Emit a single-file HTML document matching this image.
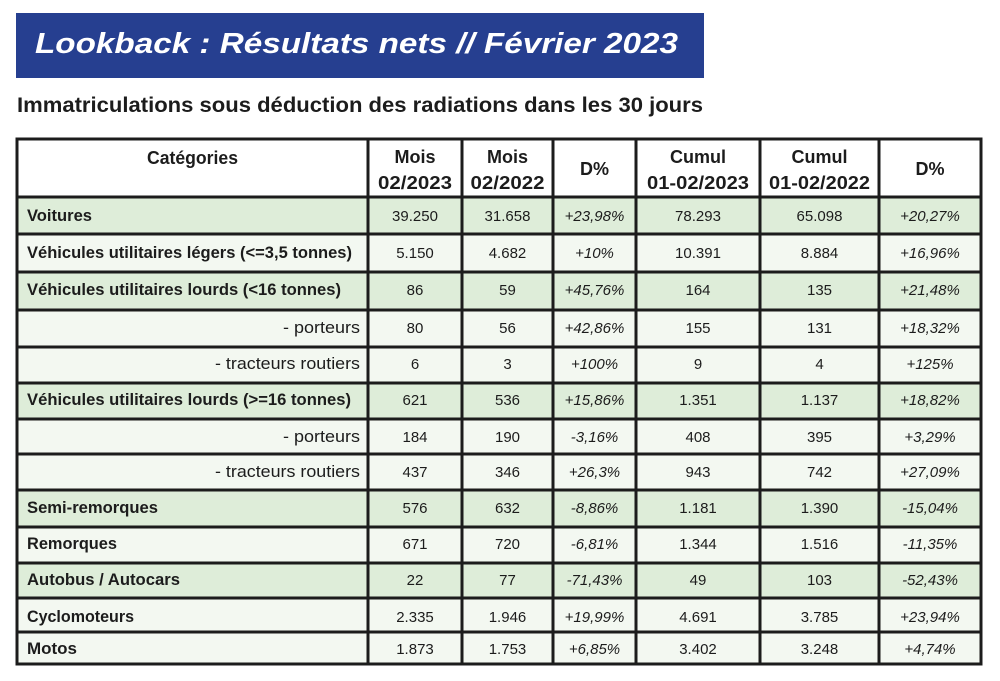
<!DOCTYPE html>
<html><head><meta charset="utf-8"><style>
html,body{margin:0;padding:0;background:#fff;width:1000px;height:681px;overflow:hidden}
svg{display:block}
.t{font-family:"Liberation Sans",sans-serif;fill:#1c1c1c}
.b{font-weight:bold}
.n{font-size:15px;text-anchor:middle}
.p{font-size:15px;text-anchor:middle;font-style:italic}
.l{font-size:17px;font-weight:bold}
.r{font-size:17px}
.h{font-size:18px;font-weight:bold;text-anchor:middle}
</style></head><body>
<svg width="1000" height="681" viewBox="0 0 1000 681" xmlns="http://www.w3.org/2000/svg">
<rect x="0" y="0" width="1000" height="681" fill="#fff"/>
<rect x="16" y="13" width="688" height="65" fill="#263f90"/>
<text x="35" y="53" font-family="Liberation Sans, sans-serif" font-size="29" font-weight="bold" font-style="italic" fill="#fff" textLength="643" lengthAdjust="spacingAndGlyphs">Lookback : Résultats nets // Février 2023</text>
<text class="t b" x="17" y="112" font-size="21" textLength="686" lengthAdjust="spacingAndGlyphs">Immatriculations sous déduction des radiations dans les 30 jours</text>

<!-- row fills -->
<rect x="17" y="139" width="964" height="58" fill="#ffffff"/>
<rect x="17" y="197" width="964" height="37" fill="#deedd9"/>
<rect x="17" y="234" width="964" height="38" fill="#f3f8f1"/>
<rect x="17" y="272" width="964" height="38" fill="#deedd9"/>
<rect x="17" y="310" width="964" height="37" fill="#f3f8f1"/>
<rect x="17" y="347" width="964" height="36" fill="#f3f8f1"/>
<rect x="17" y="383" width="964" height="36" fill="#deedd9"/>
<rect x="17" y="419" width="964" height="35" fill="#f3f8f1"/>
<rect x="17" y="454" width="964" height="36" fill="#f3f8f1"/>
<rect x="17" y="490" width="964" height="37" fill="#deedd9"/>
<rect x="17" y="527" width="964" height="36" fill="#f3f8f1"/>
<rect x="17" y="563" width="964" height="35" fill="#deedd9"/>
<rect x="17" y="598" width="964" height="34" fill="#f3f8f1"/>
<rect x="17" y="632" width="964" height="32" fill="#f3f8f1"/>

<!-- grid -->
<g stroke="#1c1c1c" stroke-width="3" fill="none">
<rect x="17" y="139" width="964" height="525"/>
<line x1="368" y1="139" x2="368" y2="664"/>
<line x1="462" y1="139" x2="462" y2="664"/>
<line x1="553" y1="139" x2="553" y2="664"/>
<line x1="636" y1="139" x2="636" y2="664"/>
<line x1="760" y1="139" x2="760" y2="664"/>
<line x1="879" y1="139" x2="879" y2="664"/>
<line x1="17" y1="197" x2="981" y2="197"/>
<line x1="17" y1="234" x2="981" y2="234"/>
<line x1="17" y1="272" x2="981" y2="272"/>
<line x1="17" y1="310" x2="981" y2="310"/>
<line x1="17" y1="347" x2="981" y2="347"/>
<line x1="17" y1="383" x2="981" y2="383"/>
<line x1="17" y1="419" x2="981" y2="419"/>
<line x1="17" y1="454" x2="981" y2="454"/>
<line x1="17" y1="490" x2="981" y2="490"/>
<line x1="17" y1="527" x2="981" y2="527"/>
<line x1="17" y1="563" x2="981" y2="563"/>
<line x1="17" y1="598" x2="981" y2="598"/>
<line x1="17" y1="632" x2="981" y2="632"/>
</g>

<!-- header -->
<g class="t">
<text class="h" x="192.5" y="164" textLength="91" lengthAdjust="spacingAndGlyphs">Catégories</text>
<text class="h" x="415" y="163">Mois</text>
<text class="h" x="415" y="189" textLength="74" lengthAdjust="spacingAndGlyphs">02/2023</text>
<text class="h" x="507.5" y="163">Mois</text>
<text class="h" x="507.5" y="189" textLength="74" lengthAdjust="spacingAndGlyphs">02/2022</text>
<text class="h" x="594.5" y="175">D%</text>
<text class="h" x="698" y="163">Cumul</text>
<text class="h" x="698" y="189" textLength="102" lengthAdjust="spacingAndGlyphs">01-02/2023</text>
<text class="h" x="819.5" y="163">Cumul</text>
<text class="h" x="819.5" y="189" textLength="101" lengthAdjust="spacingAndGlyphs">01-02/2022</text>
<text class="h" x="930" y="175">D%</text>
</g>

<!-- labels -->
<g class="t">
<text class="l" x="27" y="221" textLength="65" lengthAdjust="spacingAndGlyphs">Voitures</text>
<text class="l" x="27" y="258" textLength="325" lengthAdjust="spacingAndGlyphs">Véhicules utilitaires légers (&lt;=3,5 tonnes)</text>
<text class="l" x="27" y="295" textLength="314" lengthAdjust="spacingAndGlyphs">Véhicules utilitaires lourds (&lt;16 tonnes)</text>
<text class="r" x="283" y="333" textLength="77" lengthAdjust="spacingAndGlyphs">- porteurs</text>
<text class="r" x="215" y="369" textLength="145" lengthAdjust="spacingAndGlyphs">- tracteurs routiers</text>
<text class="l" x="27" y="405" textLength="324" lengthAdjust="spacingAndGlyphs">Véhicules utilitaires lourds (&gt;=16 tonnes)</text>
<text class="r" x="283" y="442" textLength="77" lengthAdjust="spacingAndGlyphs">- porteurs</text>
<text class="r" x="215" y="477" textLength="145" lengthAdjust="spacingAndGlyphs">- tracteurs routiers</text>
<text class="l" x="27" y="513" textLength="131" lengthAdjust="spacingAndGlyphs">Semi-remorques</text>
<text class="l" x="27" y="549" textLength="90" lengthAdjust="spacingAndGlyphs">Remorques</text>
<text class="l" x="27" y="585" textLength="153" lengthAdjust="spacingAndGlyphs">Autobus / Autocars</text>
<text class="l" x="27" y="622" textLength="107" lengthAdjust="spacingAndGlyphs">Cyclomoteurs</text>
<text class="l" x="27" y="654" textLength="50" lengthAdjust="spacingAndGlyphs">Motos</text>
</g>

<!-- data -->
<g class="t">
<text class="n" x="415" y="221">39.250</text><text class="n" x="507.5" y="221">31.658</text><text class="p" x="594.5" y="221">+23,98%</text><text class="n" x="698" y="221">78.293</text><text class="n" x="819.5" y="221">65.098</text><text class="p" x="930" y="221">+20,27%</text>
<text class="n" x="415" y="258">5.150</text><text class="n" x="507.5" y="258">4.682</text><text class="p" x="594.5" y="258">+10%</text><text class="n" x="698" y="258">10.391</text><text class="n" x="819.5" y="258">8.884</text><text class="p" x="930" y="258">+16,96%</text>
<text class="n" x="415" y="295">86</text><text class="n" x="507.5" y="295">59</text><text class="p" x="594.5" y="295">+45,76%</text><text class="n" x="698" y="295">164</text><text class="n" x="819.5" y="295">135</text><text class="p" x="930" y="295">+21,48%</text>
<text class="n" x="415" y="333">80</text><text class="n" x="507.5" y="333">56</text><text class="p" x="594.5" y="333">+42,86%</text><text class="n" x="698" y="333">155</text><text class="n" x="819.5" y="333">131</text><text class="p" x="930" y="333">+18,32%</text>
<text class="n" x="415" y="369">6</text><text class="n" x="507.5" y="369">3</text><text class="p" x="594.5" y="369">+100%</text><text class="n" x="698" y="369">9</text><text class="n" x="819.5" y="369">4</text><text class="p" x="930" y="369">+125%</text>
<text class="n" x="415" y="405">621</text><text class="n" x="507.5" y="405">536</text><text class="p" x="594.5" y="405">+15,86%</text><text class="n" x="698" y="405">1.351</text><text class="n" x="819.5" y="405">1.137</text><text class="p" x="930" y="405">+18,82%</text>
<text class="n" x="415" y="442">184</text><text class="n" x="507.5" y="442">190</text><text class="p" x="594.5" y="442">-3,16%</text><text class="n" x="698" y="442">408</text><text class="n" x="819.5" y="442">395</text><text class="p" x="930" y="442">+3,29%</text>
<text class="n" x="415" y="477">437</text><text class="n" x="507.5" y="477">346</text><text class="p" x="594.5" y="477">+26,3%</text><text class="n" x="698" y="477">943</text><text class="n" x="819.5" y="477">742</text><text class="p" x="930" y="477">+27,09%</text>
<text class="n" x="415" y="513">576</text><text class="n" x="507.5" y="513">632</text><text class="p" x="594.5" y="513">-8,86%</text><text class="n" x="698" y="513">1.181</text><text class="n" x="819.5" y="513">1.390</text><text class="p" x="930" y="513">-15,04%</text>
<text class="n" x="415" y="549">671</text><text class="n" x="507.5" y="549">720</text><text class="p" x="594.5" y="549">-6,81%</text><text class="n" x="698" y="549">1.344</text><text class="n" x="819.5" y="549">1.516</text><text class="p" x="930" y="549">-11,35%</text>
<text class="n" x="415" y="585">22</text><text class="n" x="507.5" y="585">77</text><text class="p" x="594.5" y="585">-71,43%</text><text class="n" x="698" y="585">49</text><text class="n" x="819.5" y="585">103</text><text class="p" x="930" y="585">-52,43%</text>
<text class="n" x="415" y="622">2.335</text><text class="n" x="507.5" y="622">1.946</text><text class="p" x="594.5" y="622">+19,99%</text><text class="n" x="698" y="622">4.691</text><text class="n" x="819.5" y="622">3.785</text><text class="p" x="930" y="622">+23,94%</text>
<text class="n" x="415" y="654">1.873</text><text class="n" x="507.5" y="654">1.753</text><text class="p" x="594.5" y="654">+6,85%</text><text class="n" x="698" y="654">3.402</text><text class="n" x="819.5" y="654">3.248</text><text class="p" x="930" y="654">+4,74%</text>
</g>
</svg>
</body></html>
